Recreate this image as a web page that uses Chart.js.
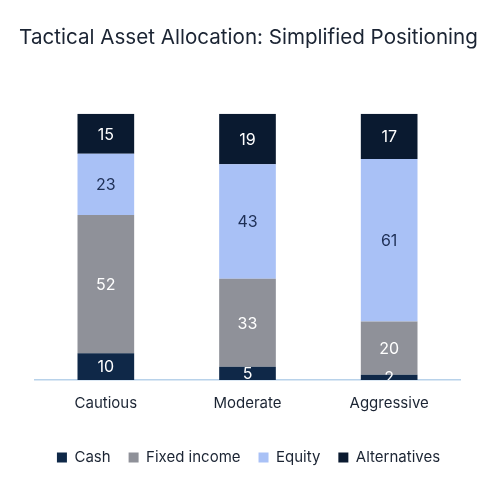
<!DOCTYPE html>
<html>
<head>
<meta charset="utf-8">
<script src="https://cdn.jsdelivr.net/npm/chart.js@4"></script>
<style>
  html, body { margin: 0; padding: 0; background: #fff; }
  #wrap { width: 497px; height: 483px; }
</style>
</head>
<body>
<div id="wrap"><canvas id="alloc"></canvas></div>
<script>
// Tactical asset allocation — stacked bars with inline value labels

const categories = ["Cautious", "Moderate", "Aggressive"];
const cash         = [10, 5, 2];
const fixedIncome  = [52, 33, 20];
const equity       = [23, 43, 61];
const alternatives = [15, 19, 17];

const FONT = "Inter, 'Noto Sans', sans-serif";
const ink = "#1b2433";

// draws each segment's value at its centre, clipped to the plot area
const barValues = {
  id: "barValues",
  afterDatasetsDraw(chart) {
    const { ctx, chartArea } = chart;
    ctx.save();
    ctx.beginPath();
    ctx.rect(chartArea.left, chartArea.top, chartArea.right - chartArea.left, chartArea.bottom - chartArea.top);
    ctx.clip();
    ctx.font = "16px " + FONT;
    ctx.textAlign = "center";
    ctx.textBaseline = "middle";
    chart.data.datasets.forEach((ds, i) => {
      const meta = chart.getDatasetMeta(i);
      meta.data.forEach((bar, j) => {
        const v = ds.data[j];
        if (v == null) return;
        const y = (bar.y + bar.base) / 2;
        ctx.fillStyle = ds.labelColor;
        ctx.fillText(String(v), bar.x, y + 1);
      });
    });
    ctx.restore();
  }
};

// invisible side axes just reserve the margins so the title keeps full width
const sideAxis = (pos, w) => ({
  type: "linear",
  position: pos,
  grid: { display: false, drawTicks: false },
  border: { display: false },
  ticks: { display: false },
  afterFit(axis) { axis.width = w; }
});

new Chart(document.getElementById("alloc"), {
  type: "bar",
  data: {
    labels: categories,
    datasets: [
      { label: "Cash",         data: cash,         backgroundColor: "#0f2848", labelColor: "#ffffff" },
      { label: "Fixed income", data: fixedIncome,  backgroundColor: "#8f9199", labelColor: "#ffffff" },
      { label: "Equity",       data: equity,       backgroundColor: "#a9c1f6", labelColor: "#1e2f55" },
      { label: "Alternatives", data: alternatives, backgroundColor: "#0a1a30", labelColor: "#ffffff" }
    ]
  },
  options: {
    responsive: true,
    maintainAspectRatio: false,
    animation: false,
    layout: { padding: { left: 0, right: 0, top: 0, bottom: 8 } },
    datasets: { bar: { categoryPercentage: 1, barPercentage: 0.4 } },
    plugins: {
      title: {
        display: true,
        text: "Tactical Asset Allocation: Simplified Positioning",
        color: ink,
        font: { family: FONT, size: 20.6, weight: 400 },
        padding: { top: 25, bottom: 64 }
      },
      legend: {
        position: "bottom",
        labels: {
          color: ink,
          font: { family: FONT, size: 15 },
          boxWidth: 10,
          boxHeight: 10,
          padding: 18
        }
      },
      tooltip: { enabled: false }
    },
    scales: {
      x: {
        stacked: true,
        grid: { display: false, drawTicks: false },
        border: { color: "#b8d2ea", width: 1.5 },
        ticks: { color: ink, font: { family: FONT, size: 15 }, padding: 14 },
        afterFit(axis) { axis.height += 6; }
      },
      y: Object.assign(sideAxis("left", 35), { stacked: true, min: 0, max: 100 }),
      yRight: Object.assign(sideAxis("right", 37), { min: 0, max: 100 })
    }
  },
  plugins: [barValues]
});
</script>
</body>
</html>
